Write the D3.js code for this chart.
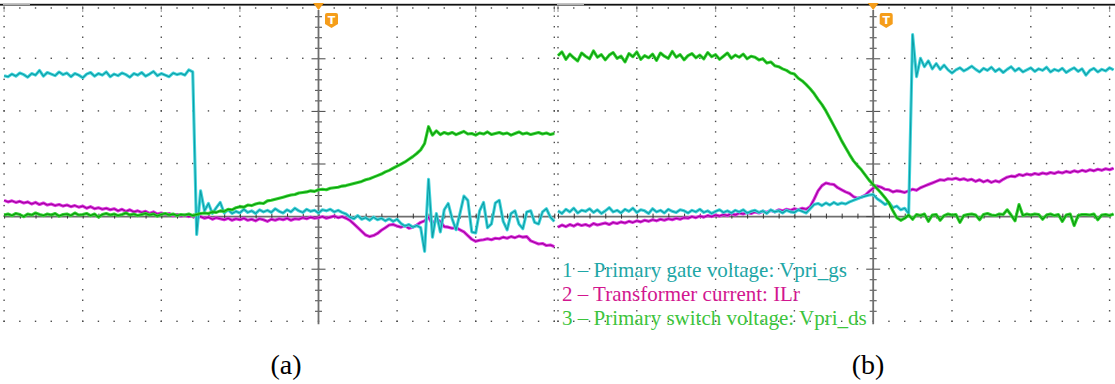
<!DOCTYPE html>
<html>
<head>
<meta charset="utf-8">
<script src="https://cdn.jsdelivr.net/npm/d3@7"></script>
<style>
  html, body { margin: 0; padding: 0; background: #fff; }
  svg { display: block; }
</style>
</head>
<body>
<svg id="chart" width="1115" height="384"></svg>
<script>
// Record sampling: time and amplitude are both expressed in screen divisions
const T_START = -4;
const T_STEP = 0.05;
const TIME_DIVS = [-4, -3, -2, -1, 0, 1, 2, 3];
const VALUE_DIVS = [-2, -1, 0, 1, 2, 3, 4];

// ---- Capture (a): turn-off transition ----
const gateA = [
  2.67, 2.65, 2.70, 2.66, 2.72, 2.69, 2.64, 2.71, 2.68, 2.77,
  2.66, 2.73, 2.70, 2.67, 2.74, 2.69, 2.72, 2.65, 2.71, 2.68,
  2.63, 2.70, 2.73, 2.66, 2.71, 2.68, 2.74, 2.65, 2.70, 2.67,
  2.72, 2.69, 2.64, 2.71, 2.68, 2.73, 2.66, 2.70, 2.75, 2.67,
  2.71, 2.68, 2.65, 2.72, 2.69, 2.71, 2.68, 2.78, 2.74, -0.35,
  0.48, 0.10, 0.24, 0.05, 0.16, 0.26, 0.06, 0.12, 0.05, 0.09,
  0.06, 0.13, 0.07, 0.10, 0.05, 0.12, 0.08, 0.11, 0.07, 0.14,
  0.09, 0.06, 0.12, 0.08, 0.15, 0.10, 0.07, 0.13, 0.09, 0.11,
  0.06, 0.12, 0.10, 0.13, 0.08, 0.11, 0.07, 0.04, -0.02, -0.05,
  0.01, -0.06, -0.03, -0.08, -0.02, -0.07, -0.04, -0.09, -0.05, -0.10,
  -0.06, -0.14, -0.19, -0.16, -0.21, -0.18, -0.22, -0.67, 0.70, -0.40,
  0.05, -0.30, 0.12, 0.24, -0.05, -0.26, 0.05, 0.38, 0.30, -0.30,
  -0.32, 0.10, 0.26, -0.22, -0.15, 0.25, 0.30, -0.10, -0.26, 0.05,
  0.10, -0.15, -0.24, 0.08, 0.10, -0.12, -0.15, 0.08, 0.14, -0.02,
  -0.10
];
const currentA = [
  0.30, 0.27, 0.29, 0.26, 0.28, 0.25, 0.27, 0.23, 0.26, 0.22,
  0.25, 0.21, 0.23, 0.20, 0.22, 0.19, 0.21, 0.18, 0.20, 0.17,
  0.19, 0.15, 0.18, 0.14, 0.16, 0.13, 0.15, 0.12, 0.14, 0.10,
  0.13, 0.09, 0.12, 0.08, 0.10, 0.07, 0.09, 0.05, 0.08, 0.04,
  0.06, 0.03, 0.05, 0.01, 0.03, 0.00, 0.02, -0.01, 0.01, -0.03,
  -0.01, -0.04, -0.02, -0.06, -0.03, -0.05, -0.07, -0.04, -0.08, -0.05,
  -0.07, -0.04, -0.08, -0.06, -0.09, -0.05, -0.07, -0.10, -0.06, -0.08,
  -0.05, -0.07, -0.04, -0.08, -0.05, -0.06, -0.03, -0.05, -0.02, -0.04,
  -0.03, -0.01, -0.04, -0.02, 0.00, -0.03, -0.01, -0.04, -0.08, -0.15,
  -0.22, -0.29, -0.36, -0.39, -0.37, -0.33, -0.27, -0.22, -0.17, -0.16,
  -0.19, -0.21, -0.18, -0.23, -0.21, -0.17, -0.12, -0.09, -0.02, -0.15,
  -0.06, -0.10, -0.20, -0.21, -0.23, -0.22, -0.26, -0.30, -0.37, -0.44,
  -0.48, -0.46, -0.45, -0.43, -0.45, -0.42, -0.43, -0.40, -0.42, -0.39,
  -0.41, -0.38, -0.40, -0.39, -0.47, -0.50, -0.53, -0.52, -0.56, -0.55,
  -0.58
];
const switchA = [
  0.02, 0.04, 0.01, 0.05, 0.03, -0.01, 0.04, 0.02, 0.06, 0.03,
  0.01, 0.04, 0.02, 0.05, 0.00, 0.03, 0.04, 0.01, 0.06, 0.02,
  0.03, 0.05, 0.01, 0.04, -0.02, 0.03, 0.05, 0.02, 0.04, 0.01,
  0.03, 0.06, 0.02, 0.04, 0.01, 0.03, 0.05, 0.02, 0.04, 0.00,
  0.03, 0.05, 0.02, 0.04, 0.01, 0.03, 0.02, 0.04, 0.01, 0.03,
  0.05, 0.06, 0.05, 0.08, 0.07, 0.10, 0.09, 0.13, 0.12, 0.16,
  0.18, 0.17, 0.21, 0.20, 0.23, 0.25, 0.24, 0.29, 0.30, 0.32,
  0.34, 0.36, 0.38, 0.40, 0.41, 0.44, 0.45, 0.46, 0.48, 0.47,
  0.50, 0.51, 0.50, 0.53, 0.54, 0.55, 0.57, 0.58, 0.60, 0.62,
  0.64, 0.66, 0.69, 0.71, 0.74, 0.77, 0.80, 0.84, 0.87, 0.91,
  0.95, 0.99, 1.03, 1.08, 1.13, 1.19, 1.26, 1.38, 1.70, 1.54,
  1.62, 1.55, 1.59, 1.56, 1.59, 1.55, 1.58, 1.61, 1.56, 1.57,
  1.54, 1.58, 1.56, 1.60, 1.55, 1.57, 1.59, 1.56, 1.58, 1.54,
  1.57, 1.60, 1.56, 1.58, 1.55, 1.57, 1.59, 1.56, 1.58, 1.55,
  1.57
];

// ---- Capture (b): turn-on transition ----
const gateB = [
  0.10, 0.05, 0.13, 0.08, 0.15, 0.06, 0.11, 0.09, 0.14, 0.07,
  0.12, 0.05, 0.10, 0.16, 0.08, 0.11, 0.06, 0.13, 0.09, 0.15,
  0.07, 0.12, 0.10, 0.05, 0.14, 0.08, 0.11, 0.06, 0.13, 0.09,
  0.07, 0.12, 0.10, 0.06, 0.11, 0.08, 0.13, 0.07, 0.10, 0.05,
  0.09, 0.12, 0.07, 0.10, 0.06, 0.11, 0.08, 0.12, 0.06, 0.09,
  0.11, 0.07, 0.10, 0.05, 0.12, 0.08, 0.10, 0.06, 0.11, 0.08,
  0.07, 0.12, 0.09, 0.06, 0.14, 0.22, 0.24, 0.20, 0.25, 0.21,
  0.26, 0.22, 0.25, 0.23, 0.27, 0.30, 0.33, 0.36, 0.38, 0.40,
  0.41, 0.33, 0.28, 0.22, 0.26, 0.16, 0.19, 0.12, 0.15, 0.05,
  3.45, 2.65, 3.00, 2.84, 2.95, 2.80, 2.90, 2.79, 2.87, 2.78,
  2.72, 2.78, 2.82, 2.76, 2.80, 2.85, 2.79, 2.74, 2.81, 2.77,
  2.83, 2.75, 2.80, 2.73, 2.79, 2.84, 2.76, 2.81, 2.74, 2.78,
  2.82, 2.75, 2.80, 2.77, 2.83, 2.74, 2.79, 2.76, 2.81, 2.73,
  2.78, 2.82, 2.75, 2.80, 2.68, 2.77, 2.81, 2.74, 2.79, 2.76,
  2.82, 2.78
];
const currentB = [
  -0.21, -0.17, -0.20, -0.16, -0.19, -0.15, -0.18, -0.16, -0.19, -0.14,
  -0.17, -0.15, -0.13, -0.16, -0.12, -0.14, -0.11, -0.13, -0.10, -0.12,
  -0.09, -0.11, -0.08, -0.10, -0.07, -0.09, -0.06, -0.08, -0.05, -0.07,
  -0.04, -0.06, -0.03, -0.04, -0.01, -0.03, 0.00, -0.02, 0.01, -0.01,
  0.02, 0.00, 0.03, 0.01, 0.05, 0.02, 0.06, 0.04, 0.07, 0.05,
  0.08, 0.06, 0.09, 0.07, 0.11, 0.08, 0.12, 0.10, 0.13, 0.11,
  0.14, 0.12, 0.15, 0.13, 0.18, 0.32, 0.48, 0.58, 0.63, 0.61,
  0.60, 0.54, 0.50, 0.46, 0.43, 0.37, 0.34, 0.36, 0.40, 0.47,
  0.53, 0.57, 0.55, 0.51, 0.50, 0.46, 0.48, 0.47, 0.45, 0.48,
  0.51, 0.49, 0.54, 0.57, 0.60, 0.63, 0.66, 0.69, 0.68, 0.71,
  0.70, 0.72, 0.69, 0.71, 0.68, 0.70, 0.66, 0.69, 0.65, 0.68,
  0.64, 0.67, 0.65, 0.70, 0.74, 0.76, 0.75, 0.79, 0.77, 0.80,
  0.78, 0.81, 0.79, 0.82, 0.80, 0.83, 0.81, 0.84, 0.82, 0.85,
  0.83, 0.86, 0.84, 0.87, 0.85, 0.88, 0.86, 0.89, 0.87, 0.90,
  0.88, 0.91
];
const switchB = [
  3.05, 3.12, 2.98, 3.08, 3.01, 2.95, 3.10, 3.04, 2.99, 3.14,
  3.02, 3.07, 2.97, 3.06, 3.11, 3.00, 3.04, 2.93, 3.09, 3.03,
  3.12, 2.98, 3.05, 3.01, 3.08, 2.96, 3.10, 3.04, 3.00, 3.13,
  3.02, 3.07, 2.97, 3.05, 3.09, 3.01, 3.06, 2.99, 3.11, 3.03,
  3.07, 2.98, 3.04, 3.10, 3.00, 3.06, 3.02, 3.08, 2.99, 3.04,
  3.02, 2.97, 2.99, 2.91, 2.93, 2.86, 2.84, 2.80, 2.77, 2.72,
  2.70, 2.62, 2.57, 2.50, 2.42, 2.33, 2.22, 2.12, 2.00, 1.86,
  1.72, 1.58, 1.43, 1.30, 1.17, 1.05, 0.96, 0.88, 0.78, 0.68,
  0.60, 0.52, 0.44, 0.35, 0.25, 0.10, -0.03, -0.08, -0.04, 0.02,
  -0.06, 0.03, 0.01, 0.04, -0.10, 0.02, 0.03, -0.08, 0.01, 0.04,
  0.02, 0.03, -0.12, 0.01, 0.03, 0.04, 0.02, -0.07, 0.03, 0.05,
  0.02, 0.01, 0.04, 0.03, 0.12, 0.02, -0.09, 0.22, 0.01, 0.04,
  0.02, 0.04, 0.03, -0.06, 0.02, 0.04, 0.01, 0.03, -0.10, 0.02,
  0.04, -0.18, 0.01, 0.03, 0.03, 0.02, 0.04, -0.07, 0.02, 0.03,
  0.01, 0.04
];

const legendLabels = [
  "1 \u2013 Primary gate voltage: Vpri_gs",
  "2 \u2013 Transformer current: ILr",
  "3 \u2013 Primary switch voltage: Vpri_ds"
];
const panelLabels = ["(a)", "(b)"];

// ---- Styling ----
const W = 1115, H = 384;
const traceColors = {
  gate:    { light: "#45d5dc", dark: "#0c9ea6" },
  current: { light: "#dc34e2", dark: "#a0009a" },
  switch:  { light: "#36d636", dark: "#0a960a" }
};
const legendColors = ["#1ea7a7", "#d2168f", "#3cc43c"];
const gridColor = "#4a4a4a";
const axisColor = "#6e6e6e";
const triggerColor = "#f59d1a";

const svg = d3.select("#chart");

const y = d3.scaleLinear().domain([-2, 4]).range([321.3, 5.7]);

const panels = [
  { x: d3.scaleLinear().domain([-4, 3]).range([4.1, 554.3]),
    clip: [0, 556], gate: gateA, current: currentA, sw: switchA,
    label: panelLabels[0], labelX: 286, barX: 3 },
  { x: d3.scaleLinear().domain([-4, 3]).range([558, 1109.6]),
    clip: [556, W], gate: gateB, current: currentB, sw: switchB,
    label: panelLabels[1], labelX: 868, barX: 557 }
];

const minorT = d3.range(36).map(k => -4 + k / 5);
const minorV = d3.range(31).map(k => -2 + k / 5);

// top frame bar
svg.append("rect").attr("x", 0).attr("y", 3.8).attr("width", W).attr("height", 1.8).attr("fill", "#111");

panels.forEach((p, pi) => {
  const g = svg.append("g");
  const x = p.x;

  // record-length indicator on the top bar
  g.append("rect").attr("x", p.barX).attr("y", 3.6).attr("width", 27).attr("height", 1.6).attr("fill", "#b4b4b4");

  // dotted graticule: vertical divisions
  TIME_DIVS.filter(t => t !== 0).forEach(t => {
    g.selectAll(null).data(minorV.filter(v => v < 4)).enter().append("rect")
      .attr("x", x(t) - 0.7).attr("y", d => y(d) - 0.7)
      .attr("width", 1.4).attr("height", 1.4).attr("fill", gridColor);
    // denser marks just below the frame
    g.selectAll(null).data([6.5, 8.5, 10.5]).enter().append("rect")
      .attr("x", x(t) - 0.6).attr("y", d => d)
      .attr("width", 1.2).attr("height", 1).attr("fill", gridColor);
  });
  // dotted graticule: horizontal divisions
  VALUE_DIVS.filter(v => v !== 0).forEach(v => {
    g.selectAll(null).data(minorT).enter().append("rect")
      .attr("x", d => x(d) - 0.7).attr("y", v === 4 ? y(v) + 1.6 : y(v) - 0.7)
      .attr("width", 1.4).attr("height", 1.4).attr("fill", gridColor);
  });

  // centre horizontal axis with minor tick marks
  const hAxis = d3.axisBottom(x).tickValues(minorT).tickSize(0).tickFormat("");
  const hg = g.append("g").attr("transform", `translate(0,${y(0)})`).call(hAxis);
  hg.select(".domain").attr("stroke", axisColor).attr("stroke-width", 1.6);
  hg.selectAll(".tick line").attr("y1", -2.5).attr("y2", 2.5).attr("stroke", "#333").attr("stroke-width", 1);

  // centre vertical axis (trigger position) with minor tick marks
  const vAxis = d3.axisRight(y).tickValues(minorV.filter(v => v < 4 && v > -2)).tickSize(0).tickFormat("");
  const vg = g.append("g").attr("transform", `translate(${x(0)},0)`).call(vAxis);
  vg.select(".domain").remove();
  vg.append("line").attr("x1", 0).attr("x2", 0).attr("y1", 10).attr("y2", y(-2) + 3)
    .attr("stroke", axisColor).attr("stroke-width", 1.8);
  vg.selectAll(".tick line")
    .attr("x1", d => Number.isInteger(Math.round(d * 1000) / 1000) ? -7 : -3.5)
    .attr("x2", d => Number.isInteger(Math.round(d * 1000) / 1000) ? 7 : 3.5)
    .attr("stroke", "#444").attr("stroke-width", 1);

  // traces
  const clipId = "clip" + pi;
  svg.append("clipPath").attr("id", clipId).append("rect")
    .attr("x", p.clip[0]).attr("y", 0).attr("width", p.clip[1] - p.clip[0]).attr("height", H);
  const tg = g.append("g").attr("clip-path", `url(#${clipId})`);
  const line = d3.line().x((d, i) => x(T_START + i * T_STEP)).y(d => y(d));
  const drawTrace = (values, c) => {
    tg.append("path").datum(values).attr("d", line).attr("fill", "none")
      .attr("stroke", c.light).attr("stroke-width", 3.1).attr("stroke-linejoin", "round");
    tg.append("path").datum(values).attr("d", line).attr("fill", "none")
      .attr("stroke", c.dark).attr("stroke-width", 1.1).attr("stroke-linejoin", "round");
  };
  drawTrace(p.current, traceColors.current);
  drawTrace(p.gate, traceColors.gate);
  drawTrace(p.sw, traceColors.switch);

  // trigger marker and badge
  const tx = x(0);
  g.append("path").attr("d", `M${tx - 5.5},3 L${tx + 5.5},3 L${tx},10 Z`).attr("fill", triggerColor);
  const bx = tx + 6.5, by = 13;
  g.append("path")
    .attr("d", `M${bx + 2},${by} H${bx + 11} Q${bx + 13},${by} ${bx + 13},${by + 2} V${by + 11} L${bx + 6.5},${by + 15} L${bx},${by + 11} V${by + 2} Q${bx},${by} ${bx + 2},${by} Z`)
    .attr("fill", triggerColor);
  g.append("text").attr("x", bx + 6.5).attr("y", by + 11).attr("text-anchor", "middle")
    .attr("font-family", "DejaVu Sans, sans-serif").attr("font-weight", "bold").attr("font-size", 11)
    .attr("fill", "#fff").text("T");

  // panel caption
  svg.append("text").attr("x", p.labelX).attr("y", 374).attr("text-anchor", "middle")
    .attr("font-family", "Liberation Serif, 'Times New Roman', serif").attr("font-size", 28)
    .attr("fill", "#000").text(p.label);
});

// channel legend
svg.append("g").selectAll("text").data(legendLabels).enter().append("text")
  .attr("x", 562).attr("y", (d, i) => 277 + i * 24)
  .attr("font-family", "Liberation Serif, 'Times New Roman', serif").attr("font-size", 21)
  .attr("fill", (d, i) => legendColors[i]).text(d => d);
</script>
</body>
</html>
